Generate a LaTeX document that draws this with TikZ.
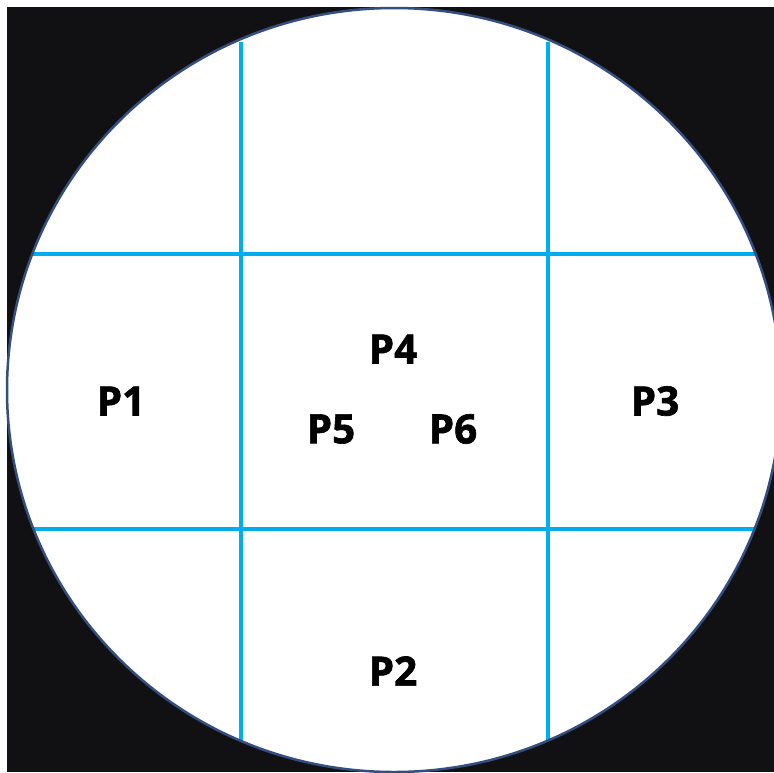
\documentclass[tikz,border=0pt]{standalone}
\usepackage{fontspec}
\setsansfont{Open Sans}[BoldFeatures={FakeBold=1.6}]
\usepackage{tikz}
\usetikzlibrary{positioning}
\definecolor{bgdark}{RGB}{17,17,19}
\definecolor{rimblue}{RGB}{52,78,128}
\definecolor{gridcyan}{RGB}{0,174,239}

\begin{document}
\begin{tikzpicture}[x=0.02cm, y=-0.02cm,
    every node/.style={font=\sffamily\bfseries\fontsize{23}{27}\selectfont},
    gridline/.style={gridcyan, line width=0.08cm},
    partlbl/.style={inner sep=0pt}]
  \useasboundingbox (0,0) rectangle (774,772);
  \fill[white] (0,0) rectangle (774,772);
  \fill[bgdark] (7,7) rectangle (774,772);
  % the plate, with its 3x3 cut lines
  \fill[white] (394,390) ellipse [x radius=387, y radius=382];
  \begin{scope}
    \clip (394,390) ellipse [x radius=387, y radius=382];
    \foreach \yy in {254,529}
      \draw[gridline] (0,\yy) -- (774,\yy);
    \foreach \xx in {241,548}
      \draw[gridline] (\xx,42) -- (\xx,744);
  \end{scope}
  \draw[rimblue, line width=0.05cm] (394,390) ellipse [x radius=387, y radius=382];
  % part labels
  \node[partlbl] (p1) at (121,401) {P1};
  \node[partlbl] (p3) at (655,401) {P3};
  \node[partlbl] (p4) at (393,349) {P4};
  \node[partlbl] (p5) at (331,429) {P5};
  \node[partlbl] (p6) at (453,429) {P6};
  \node[partlbl] (p2) at (393,671) {P2};
\end{tikzpicture}
\end{document}
